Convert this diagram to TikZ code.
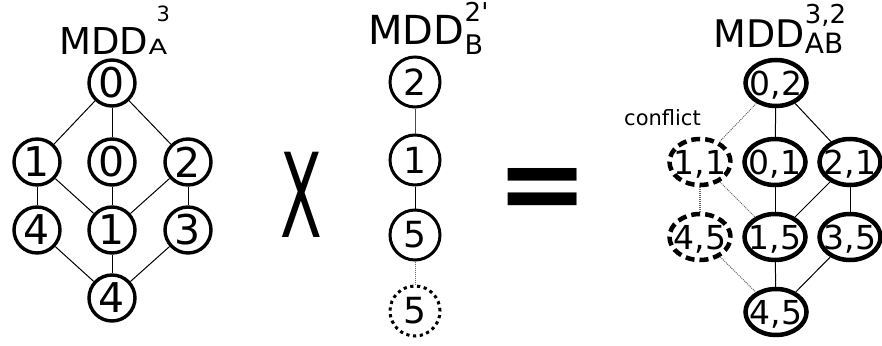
\documentclass[tikz,border=0pt]{standalone}
\usepackage{fontspec}
\usepackage{graphicx}
\setmainfont{DejaVu Sans}
\newfontfamily\boldsans{DejaVu Sans Bold}
\usetikzlibrary{shapes.geometric}

\tikzset{
  anode/.style={circle,draw,line width=3.4pt,inner sep=0pt,minimum size=46pt,
    font=\fontsize{41}{41}\selectfont},
  bnode/.style={circle,draw,line width=3pt,inner sep=0pt,minimum size=50pt,
    font=\fontsize{36}{36}\selectfont},
  pairnode/.style={ellipse,draw,line width=4.5pt,inner xsep=-8pt,inner ysep=0pt,
    minimum width=61pt,minimum height=46pt,text depth=0pt,
    font=\fontsize{33}{33}\selectfont},
  conflictnode/.style={pairnode,dash pattern=on 9pt off 5pt},
  edge/.style={line width=1pt},
  dotedge/.style={line width=1pt,gray!80!black,dash pattern=on 1pt off 1pt},
  titletext/.style={inner sep=0pt,anchor=base west},
}

\begin{document}
\begin{tikzpicture}[x=1pt,y=-1pt]
  \useasboundingbox (0,0) rectangle (882,345);

  % MDD A
  \node[titletext,font=\fontsize{37}{37}\selectfont] (titleA) at (59,55) {MDD};
  \node[titletext,font=\fontsize{21}{21}\selectfont] (subA) at (titleA.base east) {\scalebox{1.3}[1]{A}};
  \node[titletext,font=\fontsize{21}{21}\selectfont] (supA) at ([xshift=8pt,yshift=33pt]titleA.base east) {3};
  \node[anode] (a0) at (112,83) {0};
  \node[anode] (a1) at (37,162) {1};
  \node[anode] (a2) at (112,162) {0};
  \node[anode] (a3) at (188,162) {2};
  \node[anode] (a4) at (37,230) {4};
  \node[anode] (a5) at (112,230) {1};
  \node[anode] (a6) at (188,230) {3};
  \node[anode] (a7) at (112,298) {4};
  \foreach \s/\t in {a0/a1,a0/a2,a0/a3,a1/a4,a1/a5,a2/a5,a3/a5,a3/a6,a4/a7,a5/a7,a6/a7}
    \draw[edge] (\s) -- (\t);

  % times
  \node[inner sep=0pt,font=\fontsize{117}{117}\selectfont] (times) at (301.5,194.5) {\scalebox{0.52}[1]{X}};

  % MDD B
  \node[titletext,font=\fontsize{40}{40}\selectfont] (titleB) at (368,45) {MDD};
  \node[titletext,font=\fontsize{27}{27}\selectfont] (subB) at ([yshift=-10pt]titleB.base east) {B};
  \node[titletext,font=\fontsize{26}{26}\selectfont] (supB) at ([yshift=23pt]titleB.base east) {2\textquotesingle};
  \node[bnode] (b1) at (415,82) {2};
  \node[bnode] (b2) at (415,160) {1};
  \node[bnode] (b3) at (415,235) {5};
  \node[bnode,dash pattern=on 3.2pt off 3.6pt] (b4) at (415,311) {5};
  \draw[edge,gray!60!black] (b1) -- (b2);
  \draw[edge] (b2) -- (b3);
  \draw[dotedge] (b3) -- (b4);

  % equals
  \node[inner sep=0pt,anchor=base,font=\boldsans\fontsize{110}{110}\selectfont] (equals) at (542.5,221) {=};

  % MDD AB
  \node[titletext,font=\fontsize{38}{38}\selectfont] (titleAB) at (713,48) {MDD};
  \node[titletext,font=\fontsize{28}{28}\selectfont] (subAB) at ([yshift=-5pt]titleAB.base east) {AB};
  \node[titletext,font=\fontsize{26}{26}\selectfont] (supAB) at ([yshift=24pt]titleAB.base east) {3,2};
  \node[titletext,font=\fontsize{21}{21}\selectfont] (conflict) at (624,125) {conflict};
  \node[pairnode] (c1) at (776,83) {0,2};
  \node[conflictnode] (c2) at (700,162) {1,1};
  \node[pairnode] (c3) at (775,162) {0,1};
  \node[pairnode] (c4) at (850,162) {2,1};
  \node[conflictnode] (c5) at (700,237) {4,5};
  \node[pairnode] (c6) at (775,237) {1,5};
  \node[pairnode] (c7) at (850,237) {3,5};
  \node[pairnode] (c8) at (776,312) {4,5};
  \foreach \s/\t in {c1/c3,c1/c4,c3/c6,c4/c6,c4/c7,c6/c8,c7/c8}
    \draw[edge] (\s) -- (\t);
  \foreach \s/\t in {c1/c2,c2/c6,c5/c8}
    \draw[dotedge] (\s) -- (\t);
  \draw[dotedge,line width=2pt] (c2) -- (c5);
\end{tikzpicture}
\end{document}
